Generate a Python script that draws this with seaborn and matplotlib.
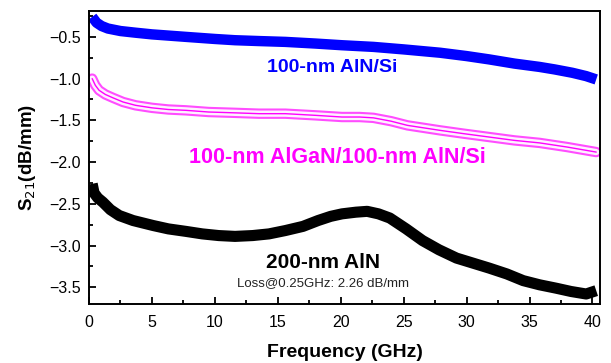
import matplotlib
matplotlib.use('Agg')
import matplotlib.pyplot as plt
import matplotlib.patheffects as pe
from matplotlib.ticker import MultipleLocator
import seaborn as sns
import pandas as pd

sns.set_style('ticks')
plt.rcParams['font.family'] = ['Liberation Sans', 'DejaVu Sans']

# values
freq_aln_si = [0.25, 0.6, 1.0, 1.5, 2.5, 3.7, 5.0, 7.7, 10.0, 11.6, 13.5, 15.6, 18.0, 20.1,
               22.6, 25.0, 27.9, 30.0, 31.8, 33.8, 35.8, 37.0, 38.4, 39.5, 40.3]
s21_aln_si = [-0.26, -0.33, -0.37, -0.40, -0.43, -0.45, -0.47, -0.50, -0.525, -0.54, -0.55,
              -0.56, -0.58, -0.60, -0.62, -0.65, -0.69, -0.73, -0.77, -0.82, -0.86, -0.89,
              -0.93, -0.97, -1.01]

freq_algan = [0.25, 0.5, 0.8, 1.3, 1.9, 2.7, 3.7, 5.0, 6.3, 7.7, 9.5, 11.6, 13.5, 15.6, 18.0,
              20.1, 21.5, 22.6, 24.0, 25.3, 26.6, 27.9, 29.8, 31.8, 33.8, 35.8, 38.0, 40.3]
s21_algan = [-1.00, -1.08, -1.14, -1.19, -1.23, -1.28, -1.32, -1.35, -1.37, -1.38, -1.40,
             -1.41, -1.42, -1.42, -1.44, -1.46, -1.46, -1.47, -1.51, -1.56, -1.59, -1.62,
             -1.66, -1.70, -1.74, -1.77, -1.82, -1.88]

freq_aln200 = [0.25, 0.4, 0.7, 1.1, 1.7, 2.4, 3.5, 5.1, 6.3, 7.7, 9.0, 10.3, 11.6, 13.0, 14.3,
               15.6, 17.0, 18.2, 19.2, 20.1, 21.2, 22.1, 23.0, 23.9, 25.2, 26.5, 27.8, 29.2,
               30.5, 31.8, 33.2, 34.5, 35.8, 37.1, 38.3, 39.5, 40.3]
s21_aln200 = [-2.26, -2.37, -2.43, -2.48, -2.57, -2.64, -2.70, -2.76, -2.80, -2.83, -2.86,
              -2.88, -2.89, -2.88, -2.86, -2.82, -2.77, -2.70, -2.65, -2.62, -2.60, -2.59,
              -2.62, -2.67, -2.80, -2.94, -3.05, -3.15, -3.21, -3.27, -3.34, -3.42, -3.47,
              -3.51, -3.55, -3.58, -3.54]

df_blue = pd.DataFrame({'f': freq_aln_si, 's21': s21_aln_si})
df_mag = pd.DataFrame({'f': freq_algan, 's21': s21_algan})
df_black = pd.DataFrame({'f': freq_aln200, 's21': s21_aln200})

fig = plt.figure(figsize=(6.11, 3.63), dpi=100)
ax = fig.add_axes([0.1457, 0.1625, 0.8363, 0.8072])

sns.lineplot(data=df_blue, x='f', y='s21', ax=ax, color='#0000ff', linewidth=7.5,
             solid_capstyle='butt', solid_joinstyle='round')
sns.lineplot(data=df_mag, x='f', y='s21', ax=ax, color='#ff00ff', linewidth=1,
             path_effects=[pe.Stroke(linewidth=7.5, foreground='#ff4dff'),
                           pe.Stroke(linewidth=4.5, foreground='#fff0ff'),
                           pe.Normal()])
sns.lineplot(data=df_black, x='f', y='s21', ax=ax, color='black', linewidth=8,
             solid_capstyle='butt', solid_joinstyle='round')

ax.set_xlim(0, 40.6)
ax.set_ylim(-3.7, -0.19)
ax.xaxis.set_major_locator(MultipleLocator(5))
ax.xaxis.set_minor_locator(MultipleLocator(2.5))
ax.yaxis.set_major_locator(MultipleLocator(0.5))
ax.yaxis.set_minor_locator(MultipleLocator(0.25))
ax.tick_params(which='both', direction='in', width=1.3, labelsize=11.5, colors='black',
               labelcolor='black')
ax.tick_params(axis='x', pad=8)
ax.tick_params(axis='y', pad=6)
ax.tick_params(which='major', length=5)
ax.tick_params(which='minor', length=3)
for sp in ax.spines.values():
    sp.set_visible(True)
    sp.set_linewidth(1.4)
    sp.set_color('black')

ax.set_xlabel('Frequency (GHz)', fontsize=14, fontweight='bold', labelpad=10, color='black')
ax.set_ylabel('S$_{21}$(dB/mm)', fontsize=13.5, fontweight='bold', labelpad=8, color='black')

ax.text(19.3, -0.87, '100-nm AlN/Si', color='#0000ff', fontsize=14, fontweight='bold',
        ha='center', va='center')
ax.text(19.7, -1.95, '100-nm AlGaN/100-nm AlN/Si', color='#ff00ff', fontsize=15.5,
        fontweight='bold', ha='center', va='center')
ax.text(18.6, -3.20, '200-nm AlN', color='black', fontsize=15, fontweight='bold',
        ha='center', va='center')
ax.text(18.6, -3.45, 'Loss@0.25GHz: 2.26 dB/mm', color='#222222', fontsize=9.5,
        ha='center', va='center')

fig.savefig('out.png', dpi=100)
